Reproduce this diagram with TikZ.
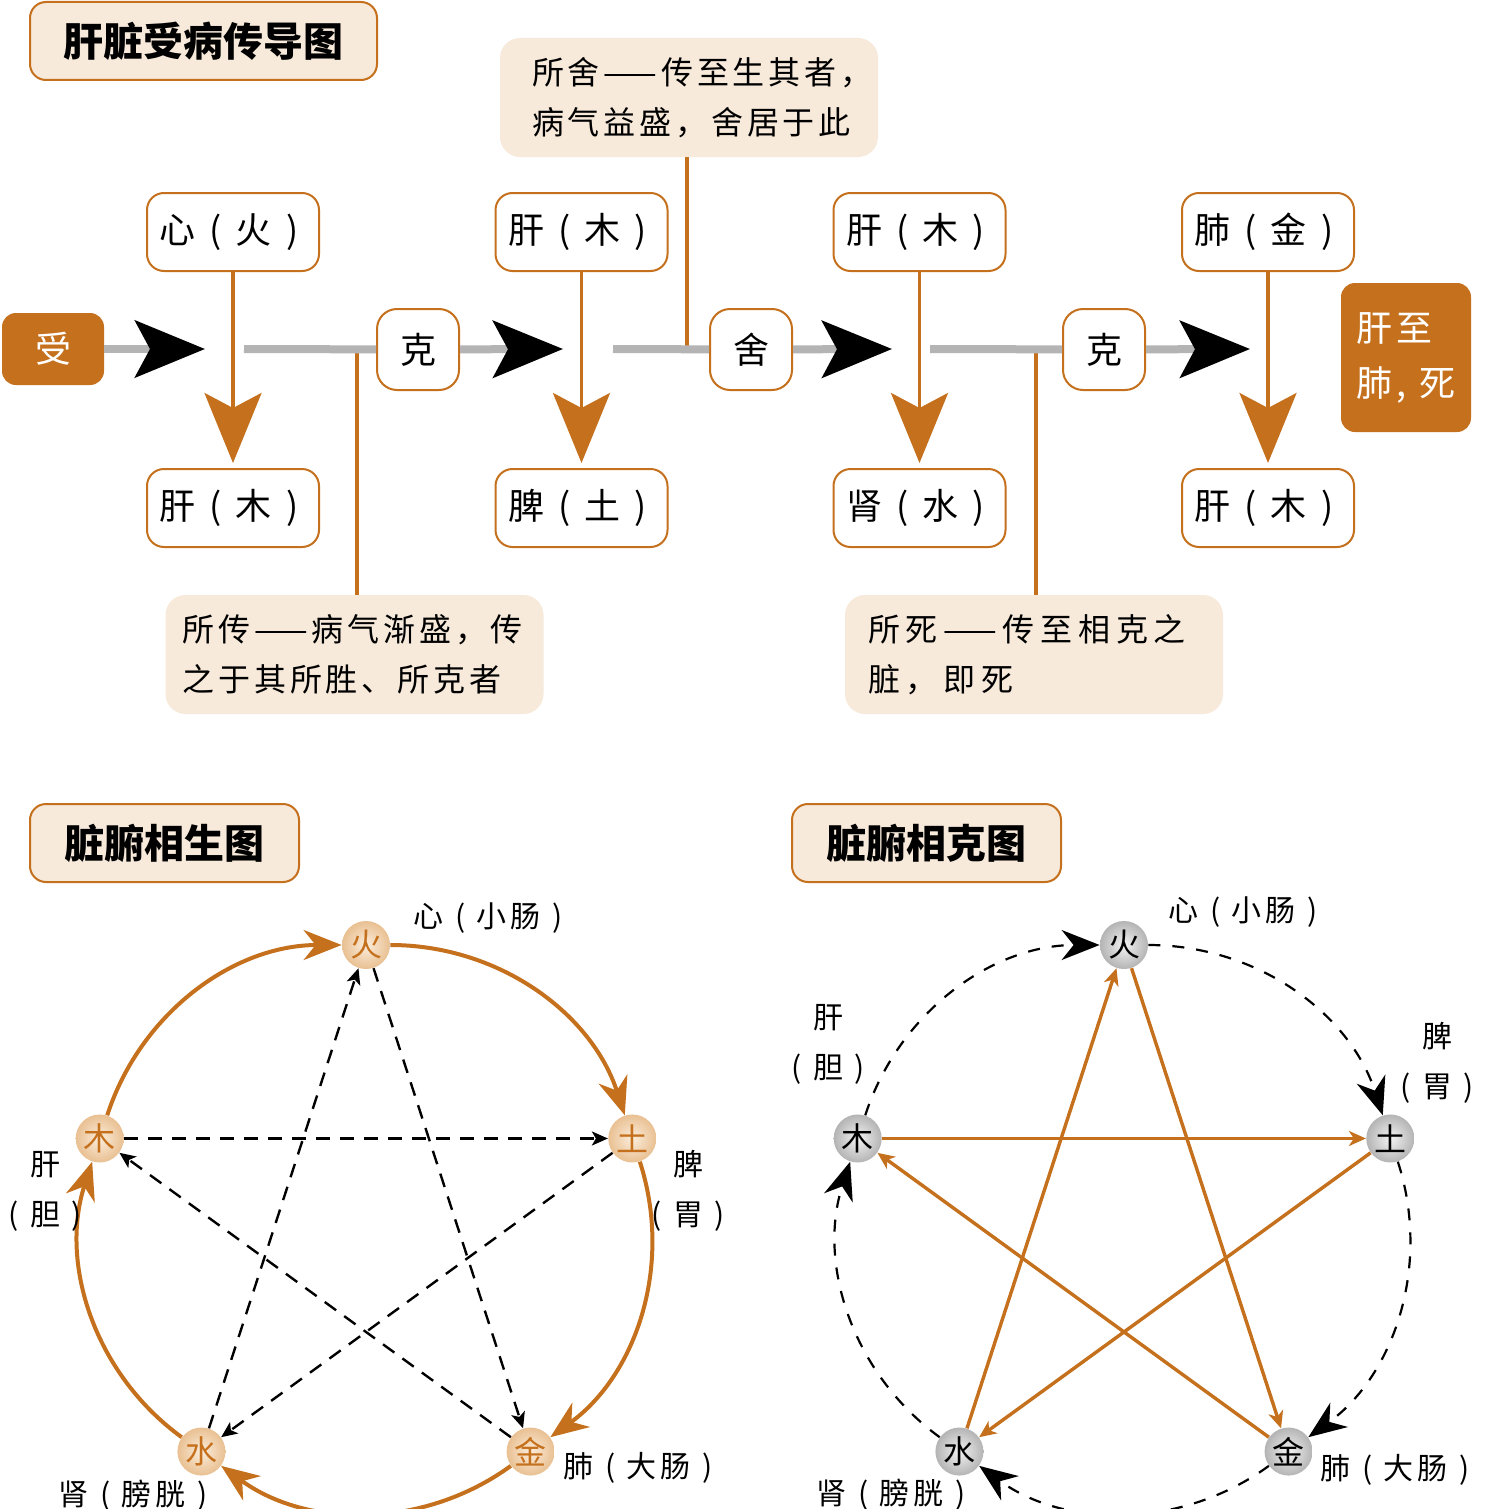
\documentclass[tikz,border=0pt]{standalone}
\usepackage{fontspec}
\setmainfont{Noto Sans CJK SC}
\newfontfamily\kai[LetterSpace=12]{Noto Sans CJK SC}
\newfontfamily\kaiwide[LetterSpace=18]{Noto Sans CJK SC}
\usetikzlibrary{arrows.meta,positioning,calc}

\definecolor{ocher}{RGB}{197,112,28}
\definecolor{cream}{RGB}{247,234,219}
\definecolor{railgrey}{RGB}{180,180,180}
\definecolor{ballin}{RGB}{251,237,220}
\definecolor{ballout}{RGB}{233,192,146}
\definecolor{greyin}{RGB}{243,243,243}
\definecolor{greyout}{RGB}{180,180,180}

% centred brackets
\newcommand{\lpar}{\makebox[1.12em]{(}}
\newcommand{\rpar}{\makebox[1.12em]{)}}

\begin{document}
\begin{tikzpicture}[x=0.5pt, y=0.5pt,
    headbox/.style={draw=ocher, line width=1pt, fill=cream, rounded corners=8pt,
      minimum height=39pt, font=\fontsize{20}{24}\selectfont\bfseries},
    organ/.style={draw=ocher, line width=1pt, fill=white, rounded corners=8.5pt,
      minimum width=86pt, minimum height=39pt, inner xsep=1pt, font=\kai\fontsize{18}{20}\selectfont,
      execute at begin node=\hspace{3pt}},
    smallbox/.style={draw=ocher, line width=1pt, fill=white, minimum width=41pt, minimum height=40.5pt,
      inner sep=0pt, rounded corners=10pt, font=\kai\fontsize{18}{20}\selectfont},
    hotbox/.style={fill=ocher, text=white, rounded corners=7pt, font=\kai\fontsize{18}{27.5}\selectfont},
    note/.style={fill=cream, rounded corners=10pt, text width=157pt, inner xsep=16pt,
      minimum height=59.5pt, align=left, font=\kai\fontsize{16}{25}\selectfont},
    rail/.style={draw=railgrey, line width=4pt},
    railtip/.style={rail, -{Stealth[length=35pt, width=28.5pt, inset=7.5pt, color=black]}},
    feed/.style={draw=ocher, line width=1.8pt, shorten >=2.5pt,
      -{Stealth[length=35pt, width=28.5pt, inset=7.5pt]}},
    lead/.style={draw=ocher, line width=1.8pt},
    wx/.style={circle, minimum size=24pt, inner sep=0pt, font=\fontsize{16}{16}\selectfont},
    wxL/.style={wx, inner color=ballin, outer color=ballout, text=ocher},
    wxR/.style={wx, inner color=greyin, outer color=greyout},
    rim/.style={bend left=36, looseness=0.95},
    shengL/.style={draw=ocher, line width=2pt, -{Stealth[length=19pt, width=15pt, inset=6pt]}},
    keL/.style={draw, line width=1.2pt, dash pattern=on 7pt off 5pt,
      -{Stealth[length=8pt, width=7pt, inset=2pt]}},
    keR/.style={draw=ocher, line width=1.7pt, -{Stealth[length=8.5pt, width=7.5pt, inset=2.5pt]}},
    shengR/.style={draw, line width=1.1pt, dash pattern=on 6pt off 6pt,
      -{Stealth[length=19pt, width=15pt, inset=6pt]}},
    lbl/.style={font=\kai\fontsize{15}{25}\selectfont, align=center, inner sep=0pt}]

  \path[use as bounding box, fill=white] (0,0) rectangle (1486,-1509);

  %% 肝脏受病传导图
  \node[headbox, minimum width=173.5pt] (t1) at (203.5,-41) {肝脏受病传导图};

  \node[hotbox, minimum width=51pt, minimum height=36pt] (1) at (53,-349) {受};
  \node[organ] (2) at (233,-232) {心\lpar 火\rpar};
  \node[organ, below=98pt of 2] (3) {肝\lpar 木\rpar};
  \node[smallbox] (4) at (418,-349.5) {克};
  \node[organ] (5) at (581.5,-232) {肝\lpar 木\rpar};
  \node[organ, below=98pt of 5] (6) {脾\lpar 土\rpar};
  \node[smallbox] (7) at (751,-349.5) {舍};
  \node[organ] (8) at (919.5,-232) {肝\lpar 木\rpar};
  \node[organ, below=98pt of 8] (9) {肾\lpar 水\rpar};
  \node[smallbox] (10) at (1104,-349.5) {克};
  \node[organ] (11) at (1268,-232) {肺\lpar 金\rpar};
  \node[organ, below=98pt of 11] (12) {肝\lpar 木\rpar};
  \node[hotbox, minimum width=65pt, minimum height=74.5pt, align=left] (13) at (1406,-357.5) {肝至\\肺, 死};

  \node[note, inner xsep=8.5pt, text width=172pt] (n1) at (354.5,-654.5) {\mbox{所传——病气渐盛，传}\\\mbox{之于其所胜、所克者}};
  \node[note] (n2) at (689,-97.5) {\mbox{所舍——传至生其者，}\\\mbox{病气益盛，舍居于此}};
  \node[note, inner xsep=11.5pt, text width=166pt, font=\kaiwide\fontsize{16}{25}\selectfont] (n3) at (1034,-654.5) {\mbox{所死——传至相克之}\\\mbox{脏，即死}};

  \coordinate (c1) at (357,-349);
  \coordinate (c2) at (687,-349);
  \coordinate (c3) at (1036,-349);
  \draw[lead] (c1) -- (c1 |- n1.north);
  \draw[lead] (n2.south -| c2) -- (c2);
  \draw[lead] (c3) -- (c3 |- n3.north);

  \coordinate (a1) at (205,-349);
  \coordinate (b1) at (244,-349);
  \coordinate (a2) at (563,-349);
  \coordinate (b2) at (613,-349);
  \coordinate (a3) at (892,-349);
  \coordinate (b3) at (930,-349);
  \coordinate (a4) at (1250,-349);
  \draw[railtip] (1) -- (a1);
  \draw[rail] (b1) -- (4);
  \draw[railtip] (4) -- (a2);
  \draw[rail] (b2) -- (7);
  \draw[railtip] (7) -- (a3);
  \draw[rail] (b3) -- (10);
  \draw[railtip] (10) -- (a4);

  \draw[feed] (2) -- (3);
  \draw[feed] (5) -- (6);
  \draw[feed] (8) -- (9);
  \draw[feed] (11) -- (12);

  %% 脏腑相生图
  \node[headbox, minimum width=134.5pt] (t2) at (164.5,-843) {脏腑相生图};
  \coordinate (cL) at (366,-1225);
  \node[wxL] (huoL) at ($(cL)+(90:280)$) {火};
  \node[wxL] (muL) at ($(cL)+(162:280)$) {木};
  \node[wxL] (tuL) at ($(cL)+(18:280)$) {土};
  \node[wxL] (jinL) at ($(cL)+(-54:280)$) {金};
  \node[wxL] (shuiL) at ($(cL)+(234:280)$) {水};

  \draw[shengL] (muL) to[rim] (huoL);
  \draw[shengL] (huoL) to[rim] (tuL);
  \draw[shengL] (tuL) to[rim] (jinL);
  \draw[shengL] (jinL) to[rim] (shuiL);
  \draw[shengL] (shuiL) to[rim] (muL);

  \draw[keL] (muL) -- (tuL);
  \draw[keL] (tuL) -- (shuiL);
  \draw[keL] (shuiL) -- (huoL);
  \draw[keL] (huoL) -- (jinL);
  \draw[keL] (jinL) -- (muL);

  \node[lbl, anchor=west] at (413,-918) {心\lpar 小肠\rpar};
  \node[lbl] at (45,-1191) {肝\\\lpar 胆\rpar};
  \node[lbl] at (688,-1191) {脾\\\lpar 胃\rpar};
  \node[lbl, anchor=west] at (563,-1468) {肺\lpar 大肠\rpar};
  \node[lbl, anchor=west] at (58,-1496) {肾\lpar 膀胱\rpar};

  %% 脏腑相克图
  \node[headbox, minimum width=134.5pt] (t3) at (926.5,-843) {脏腑相克图};
  \coordinate (cR) at (1124,-1225);
  \node[wxR] (huoR) at ($(cR)+(90:280)$) {火};
  \node[wxR] (muR) at ($(cR)+(162:280)$) {木};
  \node[wxR] (tuR) at ($(cR)+(18:280)$) {土};
  \node[wxR] (jinR) at ($(cR)+(-54:280)$) {金};
  \node[wxR] (shuiR) at ($(cR)+(234:280)$) {水};

  \draw[keR] (muR) -- (tuR);
  \draw[keR] (tuR) -- (shuiR);
  \draw[keR] (shuiR) -- (huoR);
  \draw[keR] (huoR) -- (jinR);
  \draw[keR] (jinR) -- (muR);

  \draw[shengR] (muR) to[rim] (huoR);
  \draw[shengR] (huoR) to[rim] (tuR);
  \draw[shengR] (tuR) to[rim] (jinR);
  \draw[shengR] (jinR) to[rim] (shuiR);
  \draw[shengR] (shuiR) to[rim] (muR);

  \node[lbl, anchor=west] at (1168,-912) {心\lpar 小肠\rpar};
  \node[lbl] at (828,-1044) {肝\\\lpar 胆\rpar};
  \node[lbl] at (1437,-1063) {脾\\\lpar 胃\rpar};
  \node[lbl, anchor=west] at (1320,-1470) {肺\lpar 大肠\rpar};
  \node[lbl, anchor=west] at (816,-1495) {肾\lpar 膀胱\rpar};
\end{tikzpicture}
\end{document}
